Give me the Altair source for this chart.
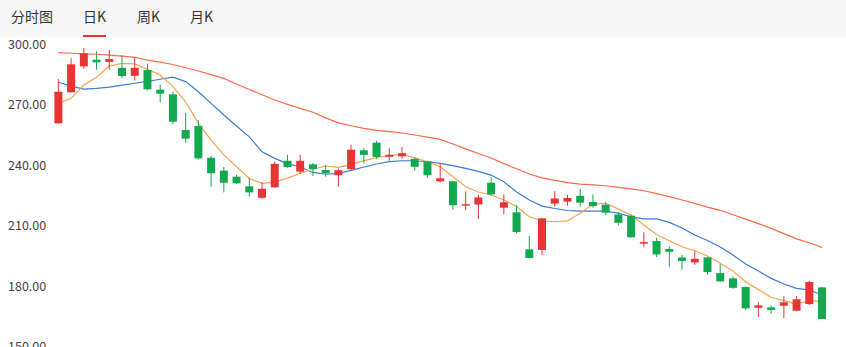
import altair as alt
import pandas as pd

# ---- data ----
opens = [261.1, 276.5, 289.4, 292.7, 291.6, 288.7, 284.7, 287.6, 277.8, 275.5,
         257.8, 259.8, 244.0, 237.6, 234.6, 229.8, 224.1, 229.3, 242.5, 237.1,
         240.7, 237.9, 235.3, 238.3, 247.7, 251.5, 244.5, 244.7, 243.5, 242.2,
         232.3, 232.3, 220.2, 220.8, 231.6, 219.2, 216.9, 198.5, 198.2, 221.2,
         222.2, 225.1, 222.0, 220.7, 215.8, 215.2, 201.3, 202.6, 198.7, 194.5,
         192.0, 194.5, 186.7, 184.1, 179.8, 169.5, 169.7, 170.5, 168.0, 171.3,
         179.6]
closes = [276.8, 290.4, 295.9, 291.4, 293.0, 284.6, 288.7, 278.0, 275.8, 261.9,
          253.5, 243.7, 236.3, 231.6, 231.3, 226.8, 228.6, 241.0, 239.4, 242.5,
          238.4, 236.3, 237.8, 248.0, 245.4, 244.4, 245.5, 246.3, 239.5, 235.3,
          233.8, 220.4, 220.9, 224.3, 225.8, 221.9, 207.1, 194.2, 213.9, 223.8,
          224.0, 221.7, 220.0, 216.7, 211.7, 204.5, 202.1, 196.0, 197.3, 192.7,
          193.8, 187.2, 182.6, 179.4, 169.2, 170.7, 168.4, 172.2, 173.7, 182.3,
          163.9]
highs = [283.1, 293.4, 298.5, 296.9, 297.5, 294.9, 294.0, 290.6, 280.3, 276.7,
         266.2, 262.7, 245.0, 239.4, 235.6, 234.1, 231.8, 242.0, 245.5, 245.5,
         241.4, 240.2, 238.6, 250.5, 248.7, 252.5, 248.7, 249.3, 244.0, 242.5,
         241.5, 232.6, 227.3, 225.6, 234.3, 225.8, 220.4, 205.1, 214.2, 227.5,
         225.5, 228.5, 225.8, 221.9, 216.9, 215.5, 207.0, 204.3, 200.0, 195.7,
         197.7, 194.8, 191.2, 185.1, 180.0, 172.2, 170.8, 175.2, 175.3, 182.8,
         179.9]
lows = [260.9, 276.3, 288.2, 287.7, 287.7, 283.5, 282.3, 277.5, 271.5, 260.6,
        251.3, 243.2, 229.6, 226.8, 230.9, 224.8, 223.6, 229.1, 239.0, 235.9,
        234.9, 234.6, 229.6, 237.9, 241.2, 243.5, 242.5, 243.5, 237.6, 234.1,
        231.8, 218.2, 217.9, 213.6, 225.3, 215.9, 206.5, 194.0, 195.8, 219.7,
        220.2, 219.7, 219.2, 215.5, 210.4, 204.3, 199.5, 194.7, 189.9, 188.4,
        190.8, 185.9, 182.4, 178.9, 168.4, 164.9, 166.5, 164.4, 167.7, 170.8,
        163.9]
ma5 = [271.0, 273.5, 280.1, 284.0, 289.6, 290.9, 290.6, 287.9, 285.1, 279.3,
       271.8, 261.1, 252.8, 245.4, 239.5, 233.7, 231.3, 231.9, 233.9, 236.3,
       238.3, 239.9, 239.2, 240.6, 242.6, 244.1, 245.1, 245.6, 243.9, 242.0,
       239.5, 234.6, 229.6, 227.0, 225.5, 223.0, 219.8, 214.7, 212.6, 212.2,
       212.6, 216.4, 221.0, 221.4, 218.5, 215.5, 210.6, 205.9, 202.8, 199.8,
       197.8, 195.2, 191.6, 187.7, 182.4, 178.5, 174.7, 173.0, 171.3, 173.0,
       172.5]
ma10 = [281.5, 279.6, 278.1, 278.5, 279.1, 280.1, 281.0, 281.9, 283.0, 284.0,
        281.8, 276.8, 271.0, 265.2, 259.8, 254.4, 247.0, 243.7, 241.1, 239.4,
        236.7, 235.8, 236.2, 237.7, 239.4, 240.9, 242.1, 242.5, 242.5, 242.0,
        241.2, 240.1, 238.7, 237.2, 235.4, 232.1, 227.0, 223.0, 220.0, 218.8,
        217.8, 217.5, 217.5, 217.5, 216.5, 214.6, 213.6, 213.6, 211.9, 209.1,
        205.6, 202.9, 199.7, 195.7, 191.2, 187.7, 184.1, 181.3, 179.1, 178.3,
        175.8]
ma20 = [296.2, 295.9, 295.6, 295.4, 295.0, 294.5, 293.9, 292.5, 291.5, 290.3,
        288.7, 287.1, 285.3, 283.4, 280.6, 277.9, 275.3, 272.7, 270.5, 268.5,
        266.6, 263.8, 261.3, 259.9, 258.6, 257.6, 257.0, 256.3, 255.3, 254.2,
        253.1, 250.8, 248.4, 246.1, 243.9, 241.1, 238.5, 235.9, 234.0, 232.8,
        231.6, 230.9, 230.5, 230.1, 229.3, 228.5, 227.6, 226.2, 224.7, 223.0,
        221.3, 219.5, 217.9, 215.7, 213.5, 211.3, 208.9, 206.3, 203.7, 201.8,
        199.5]
y_ticks = [300, 270, 240, 210, 180, 150]
tabs = ["分时图", "日K", "周K", "月K"]

UP = "#e83434"
DOWN = "#10a94f"
FONT = "Noto Sans CJK SC"

df = pd.DataFrame({
    "i": list(range(len(opens))),
    "open": opens, "close": closes, "high": highs, "low": lows,
    "ma5": ma5, "ma10": ma10, "ma20": ma20,
})
df["dir"] = ["up" if c >= o else "down" for o, c in zip(opens, closes)]

xs = alt.Scale(domain=[-4.193, 61.49], nice=False, zero=False)
ys = alt.Scale(domain=[150, 300], nice=False, zero=False)
col = alt.Color("dir:N", scale=alt.Scale(domain=["up", "down"], range=[UP, DOWN]), legend=None)

base = alt.Chart(df)

wicks = base.mark_rule(strokeWidth=1).encode(
    x=alt.X("i:Q", scale=xs, axis=None),
    y=alt.Y("low:Q", scale=ys, axis=None),
    y2="high:Q",
    color=col,
)
bodies = base.mark_bar(size=8).encode(
    x=alt.X("i:Q", scale=xs, axis=None),
    y=alt.Y("open:Q", scale=ys, axis=None),
    y2="close:Q",
    color=col,
)

def ma_line(field, color):
    return base.mark_line(strokeWidth=1.2, color=color).encode(
        x=alt.X("i:Q", scale=xs, axis=None),
        y=alt.Y(f"{field}:Q", scale=ys, axis=None),
    )

l20 = ma_line("ma20", "#fb6b4b")
l10 = ma_line("ma10", "#3d7bd6")
l5 = ma_line("ma5", "#fba24f")

ylabels = alt.Chart(pd.DataFrame({"v": y_ticks})).mark_text(
    align="left", baseline="middle", font=FONT, fontSize=12.5, color="#444444"
).encode(
    x=alt.value(8),
    y=alt.Y("v:Q", scale=ys, axis=None),
    text=alt.Text("v:Q", format=".2f"),
)

header_bg = alt.Chart(pd.DataFrame({"a": [0]})).mark_rect(color="#f7f7f7").encode(
    x=alt.value(0), x2=alt.value(846), y=alt.value(-45), y2=alt.value(-7.7)
)
underline = alt.Chart(pd.DataFrame({"a": [0]})).mark_rect(color="#e83434").encode(
    x=alt.value(83), x2=alt.value(106), y=alt.value(-10), y2=alt.value(-8)
)
tab_x = [11, 83, 137, 190]
tab_layers = []
for t, px in zip(tabs, tab_x):
    tab_layers.append(
        alt.Chart(pd.DataFrame({"t": [t]})).mark_text(
            align="left", baseline="middle", font=FONT, fontSize=14, color="#333333"
        ).encode(x=alt.value(px), y=alt.value(-27), text="t:N")
    )

chart = alt.layer(
    header_bg, underline, *tab_layers,
    l20, l10, l5, wicks, bodies, ylabels,
).properties(
    width=846, height=302,
    padding={"left": 0, "top": 45, "right": 0, "bottom": 0},
    autosize=alt.AutoSizeParams(type="none"),
    background="white",
).configure_view(stroke=None)

chart.save("out.html", embed_options={"renderer": "svg", "actions": False})
